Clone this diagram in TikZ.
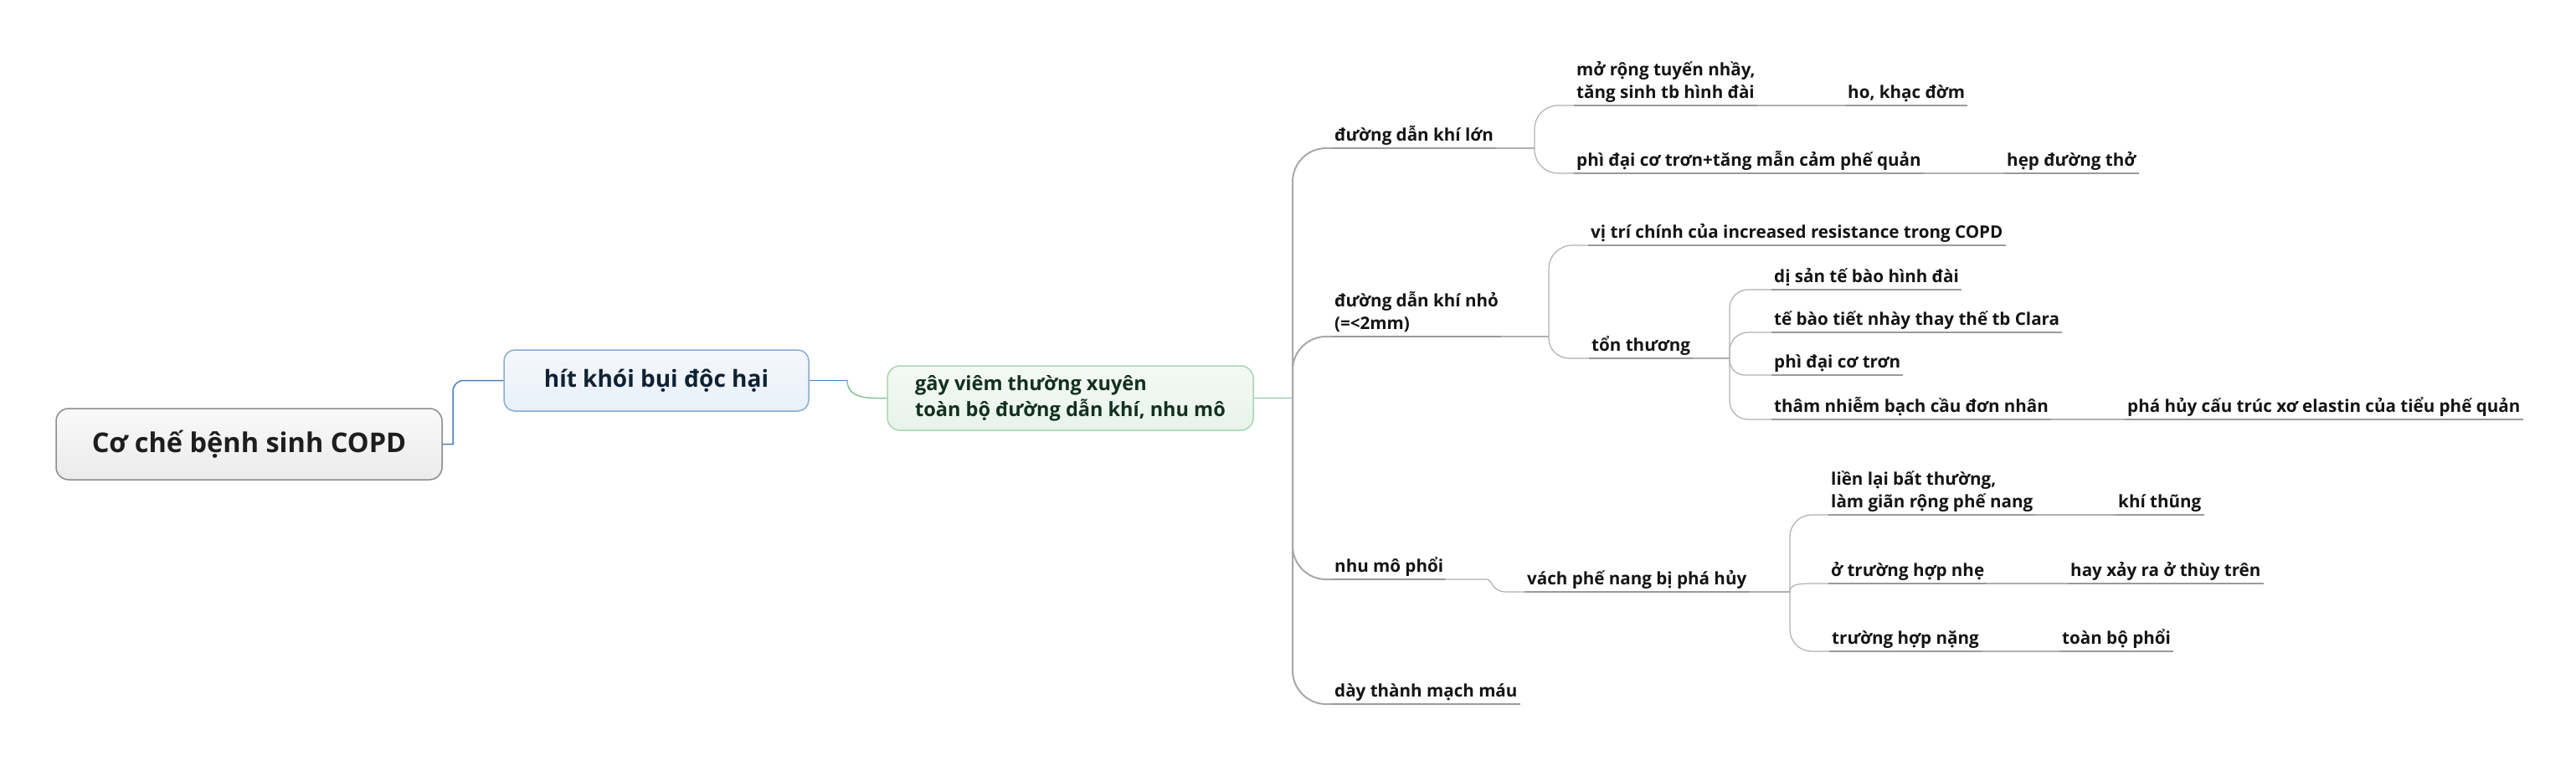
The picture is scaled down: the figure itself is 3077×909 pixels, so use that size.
\documentclass[tikz,border=0pt]{standalone}
\usepackage{fontspec}
\setmainfont{Open Sans}
\usetikzlibrary{calc}
\definecolor{rootTop}{HTML}{F9F9F9}
\definecolor{rootBot}{HTML}{EBEBEB}
\definecolor{rootLine}{HTML}{8C8C8C}
\definecolor{rootTxt}{HTML}{1E1E1E}
\definecolor{hitTop}{HTML}{F5F8FC}
\definecolor{hitBot}{HTML}{E8F0F9}
\definecolor{hitLine}{HTML}{88ACD4}
\definecolor{hitTxt}{HTML}{0E2233}
\definecolor{grTop}{HTML}{F3F9F4}
\definecolor{grBot}{HTML}{E8F3EB}
\definecolor{grLine}{HTML}{A9D5B5}
\definecolor{grTxt}{HTML}{12301E}
\definecolor{blueConn}{HTML}{4A7FBA}
\definecolor{greenConn}{HTML}{86C297}
\definecolor{trunkCol}{HTML}{A8A8A8}
\definecolor{connCol}{HTML}{B0B0B0}
\definecolor{ulineCol}{HTML}{9A9A9A}
\definecolor{topicTxt}{HTML}{141414}
\newcommand\twoline[2]{\vbox{\hbox{#1}\hbox{#2}}}
\tikzset{
  rootbox/.style={draw=rootLine, line width=1.5pt, rounded corners=15pt, top color=rootTop, bottom color=rootBot,
    minimum width=461pt, minimum height=85pt, inner sep=0pt, text=rootTxt, font=\fontsize{32.5}{40}\selectfont\bfseries},
  hitbox/.style={draw=hitLine, line width=1.5pt, rounded corners=13pt, top color=hitTop, bottom color=hitBot,
    minimum width=364pt, minimum height=73pt, inner sep=0pt, text=hitTxt, font=\fontsize{28}{34}\selectfont\bfseries},
  grbox/.style={draw=grLine, line width=1.5pt, rounded corners=15pt, top color=grTop, bottom color=grBot,
    minimum width=437pt, minimum height=77pt, inner sep=0pt, align=left, text=grTxt, font=\fontsize{23.5}{31}\selectfont\bfseries},
  topic/.style={anchor=south west, inner xsep=3pt, inner ysep=0pt, text depth=8pt, text=topicTxt,
    font=\fontsize{20.6}{27}\selectfont\bfseries},
  bconn/.style={draw=blueConn, line width=1.5pt},
  gconn/.style={draw=greenConn, line width=1.5pt},
  trunk/.style={draw=trunkCol, line width=2pt, rounded corners=40pt},
  conn/.style={draw=connCol, line width=1.2pt},
  uline/.style={draw=ulineCol, line width=1.4pt},
}
\begin{document}
\begin{tikzpicture}[x=1pt,y=-1pt]
\useasboundingbox (0,0) rectangle (3077,909);
% main boxes
\node[rootbox] (root) at (297.5,530.5) {Cơ chế bệnh sinh COPD};
\node[hitbox] (hit) at (784,454.5) {hít khói bụi độc hại};
\node[grbox] (green) at (1278.5,475.5) {gây viêm thường xuyên\\toàn bộ đường dẫn khí, nhu mô};
% topics
\node[topic] (n1) at (1591,177) {đường dẫn khí lớn};
\node[topic] (n2) at (1591,402) {\twoline{đường dẫn khí nhỏ}{(=<2mm)}};
\node[topic] (n3) at (1591,692) {nhu mô phổi};
\node[topic] (n4) at (1591,841) {dày thành mạch máu};
\node[topic] (n11) at (1880,126) {\twoline{mở rộng tuyến nhầy,}{tăng sinh tb hình đài}};
\node[topic] (n111) at (2204,126) {ho, khạc đờm};
\node[topic] (n12) at (1880,207) {phì đại cơ trơn+tăng mẫn cảm phế quản};
\node[topic] (n121) at (2394,207) {hẹp đường thở};
\node[topic] (n21) at (1897,293) {vị trí chính của increased resistance trong COPD};
\node[topic] (n22) at (1898,428) {tổn thương};
\node[topic] (n221) at (2116,346) {dị sản tế bào hình đài};
\node[topic] (n222) at (2116,397) {tế bào tiết nhày thay thế tb Clara};
\node[topic] (n223) at (2116,448) {phì đại cơ trơn};
\node[topic] (n224) at (2116,501) {thâm nhiễm bạch cầu đơn nhân};
\node[topic] (n2241) at (2538,501) {phá hủy cấu trúc xơ elastin của tiểu phế quản};
\node[topic] (n31) at (1821,707) {vách phế nang bị phá hủy};
\node[topic] (n311) at (2184,615) {\twoline{liền lại bất thường,}{làm giãn rộng phế nang}};
\node[topic] (n3111) at (2527,615) {khí thũng};
\node[topic] (n312) at (2184,697) {ở trường hợp nhẹ};
\node[topic] (n3121) at (2470,697) {hay xảy ra ở thùy trên};
\node[topic] (n313) at (2185,778) {trường hợp nặng};
\node[topic] (n3131) at (2460,778) {toàn bộ phổi};
% underlines
\foreach \n in {n1,n2,n3,n4,n11,n111,n12,n121,n21,n22,n221,n222,n223,n224,n2241,n31,n311,n3111,n312,n3121,n313,n3131}
  \draw[uline] (\n.south west) -- (\n.south east);
% branch points
\coordinate (rh) at (541,530.5);
\coordinate (hg) at (1012,454.5);
\coordinate (T) at (1544,475.5);
\coordinate (b1) at (1833,177);
\coordinate (b2) at (1850,402);
\coordinate (b22) at (2066,428);
\coordinate (b3) at (1775,692);
\coordinate (b31) at (2138,707);
% main connectors
\draw[bconn] (root.east) -- (rh) -- (541,467.5) .. controls (541,460) and (546.5,454.5) .. (554,454.5) -- (hit.west);
\draw[bconn] (hit.east) -- (hg);
\draw[gconn] (hg) .. controls (1012,470) and (1025,475.5) .. (1045,475.5) -- (green.west);
\draw[gconn] (green.east) -- (T);
% trunk
\draw[trunk] (T) |- (n1.south west);
\draw[trunk] (T) |- (n2.south west);
\draw[trunk] (T) |- (n3.south west);
\draw[trunk] (T) |- (n4.south west);
% group n1
\draw[conn] (n1.south east) -- (b1);
\draw[conn, rounded corners=28pt] (b1) |- (n11.south west);
\draw[conn, rounded corners=28pt] (b1) |- (n12.south west);
\draw[conn] (n11.south east) -- (n111.south west);
\draw[conn] (n12.south east) -- (n121.south west);
% group n2
\draw[conn] (n2.south east) -- (b2);
\draw[conn, rounded corners=28pt] (b2) |- (n21.south west);
\draw[conn, rounded corners=24pt] (b2) |- (n22.south west);
\draw[conn] (n22.south east) -- (b22);
\draw[conn, rounded corners=22pt] (b22) |- (n221.south west);
\draw[conn, rounded corners=22pt] (b22) |- (n222.south west);
\draw[conn, rounded corners=18pt] (b22) |- (n223.south west);
\draw[conn, rounded corners=22pt] (b22) |- (n224.south west);
\draw[conn] (n224.south east) -- (n2241.south west);
% group n3
\draw[conn] (n3.south east) -- (b3) .. controls (1784,692) and (1780,707) .. (1800,707) -- (n31.south west);
\draw[conn] (n31.south east) -- (b31);
\draw[conn, rounded corners=26pt] (b31) |- (n311.south west);
\draw[conn] (b31) .. controls (2138,699) and (2146,697) .. (2162,697) -- (n312.south west);
\draw[conn, rounded corners=26pt] (b31) |- (n313.south west);
\draw[conn] (n311.south east) -- (n3111.south west);
\draw[conn] (n312.south east) -- (n3121.south west);
\draw[conn] (n313.south east) -- (n3131.south west);
\end{tikzpicture}
\end{document}
